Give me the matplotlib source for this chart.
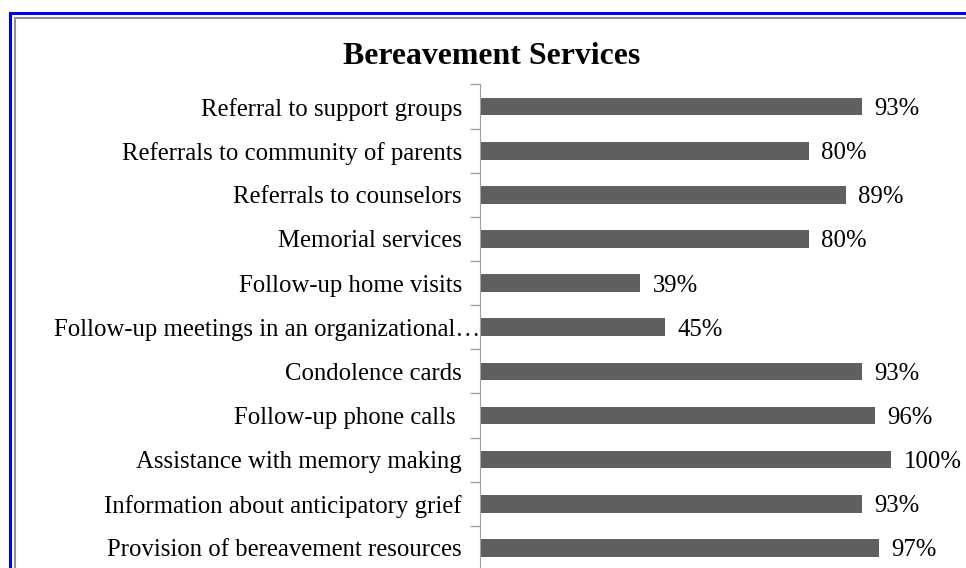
import matplotlib
matplotlib.use("Agg")
import matplotlib.pyplot as plt
from matplotlib.lines import Line2D
from matplotlib.transforms import ScaledTranslation

categories = [
    "Referral to support groups",
    "Referrals to community of parents",
    "Referrals to counselors",
    "Memorial services",
    "Follow-up home visits",
    "Follow-up meetings in an organizational\u2026",
    "Condolence cards",
    "Follow-up phone calls ",
    "Assistance with memory making",
    "Information about anticipatory grief",
    "Provision of bereavement resources",
]
values = [93, 80, 89, 80, 39, 45, 93, 96, 100, 93, 97]

plt.rcParams['font.family'] = ['Liberation Serif', 'DejaVu Serif']

W, H = 966, 568
fig = plt.figure(figsize=(W / 100, H / 100), dpi=100)

# axes placed in pixel terms: axis line at x=480, 100% -> 411 px
left = 480 / W
width = 411 * 1.13 / W
top = 1 - 84.5 / H
bottom = 1 - 570 / H
ax = fig.add_axes([left, bottom, width, top - bottom])

y = list(range(len(categories)))
ax.barh(y, values, height=0.4, color='#5f5f5f')
ax.set_xlim(0, 113)
ax.set_ylim(len(categories) - 0.5, -0.5)

ax.set_yticks(y)
ax.set_yticklabels(categories, fontsize=17.8)
ax.set_yticks([i - 0.5 for i in range(len(categories) + 1)], minor=True)
ax.tick_params(axis='y', which='major', length=0, pad=13)
ax.tick_params(axis='y', which='minor', length=7, color='#a0a0a0', width=1)
ax.set_xticks([])
for s in ['top', 'right', 'bottom']:
    ax.spines[s].set_visible(False)
ax.spines['left'].set_color('#a0a0a0')

# the truncated label runs right up to the axis in the original
lab = ax.get_yticklabels()[5]
lab.set_transform(lab.get_transform() + ScaledTranslation(0.18, 0, fig.dpi_scale_trans))

for yi, v in zip(y, values):
    ax.text(v + 3, yi, f"{v}%", va='center_baseline', ha='left', fontsize=17.8)

fig.text(492 / W, 1 - 57 / H, "Bereavement Services", ha='center', va='center',
         fontsize=22.9, fontweight='bold')

# frame lines
fig.add_artist(Line2D([10 / W, 10 / W], [0, 1 - 13 / H], color='#0000ee', lw=2.2,
                      transform=fig.transFigure))
fig.add_artist(Line2D([10 / W, 1], [1 - 13 / H, 1 - 13 / H], color='#0000ee', lw=2.2,
                      transform=fig.transFigure))
fig.add_artist(Line2D([14.5 / W, 14.5 / W], [0, 1 - 18 / H], color='#909090', lw=1.5,
                      transform=fig.transFigure))
fig.add_artist(Line2D([14.5 / W, 1], [1 - 18 / H, 1 - 18 / H], color='#909090', lw=1.5,
                      transform=fig.transFigure))

fig.savefig("out.png", dpi=100)
